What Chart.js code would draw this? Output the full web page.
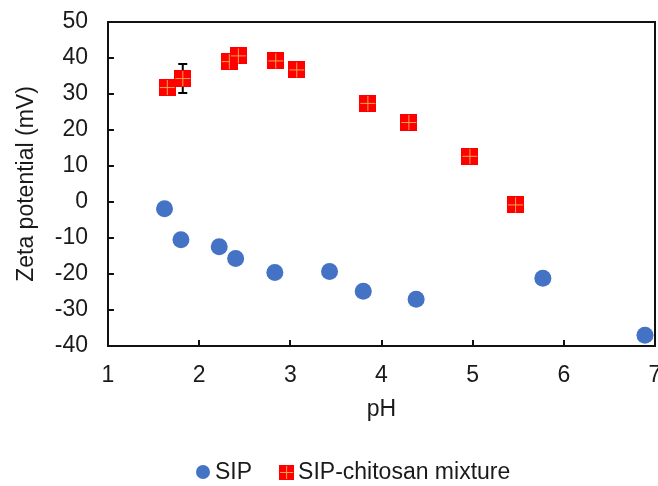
<!DOCTYPE html>
<html>
<head>
<meta charset="utf-8">
<script src="https://cdn.jsdelivr.net/npm/chart.js@4"></script>
<style>
  html, body { margin: 0; padding: 0; background: #fff; }
  #wrap { width: 658px; height: 486px; }
</style>
</head>
<body>
<div id="wrap"><canvas id="zetaChart"></canvas></div>
<script>
// SIP alone
const sipPH   = [1.62, 1.80, 2.22, 2.40, 2.83, 3.43, 3.80, 4.38, 5.77, 6.89];
const sipZeta = [-1.9, -10.5, -12.4, -15.7, -19.6, -19.3, -24.8, -27.0, -21.2, -37.0];
const sipErr  = [0, 0, 0, 0, 0, 1.3, 0, 0, 0, 0];

// SIP-chitosan mixture
const mixPH   = [1.65, 1.82, 2.33, 2.43, 2.84, 3.07, 3.85, 4.30, 4.97, 5.47];
const mixZeta = [31.8, 34.3, 39.0, 40.6, 39.2, 36.7, 27.4, 22.1, 12.7, -0.8];
const mixErr  = [0, 4.0, 0, 0, 0, 0, 0, 0, 0, 0];

const xTicks = [1, 2, 3, 4, 5, 6, 7];
const yTicks = [-40, -30, -20, -10, 0, 10, 20, 30, 40, 50];

const BLUE = '#4472C4';
const RED = '#FF0000';
const TEXT = '#1a1a1a';
const FONT_FAMILY = '"Liberation Sans", Arial, sans-serif';
const FONT_SIZE = 23;

// red square with light orange cross, used for points and legend
function makeSquare(size) {
    const c = document.createElement('canvas');
    c.width = size;
    c.height = size;
    const g = c.getContext('2d');
    g.fillStyle = RED;
    g.fillRect(0, 0, size, size);
    g.strokeStyle = '#F5A64A';
    g.lineWidth = 1;
    const m = Math.floor(size / 2) + 0.5;
    g.beginPath();
    g.moveTo(m, 1); g.lineTo(m, size - 1);
    g.moveTo(1, m); g.lineTo(size - 1, m);
    g.stroke();
    return c;
}
const squareMark = makeSquare(17);
const squareLegend = makeSquare(15);

const toPoints = (xs, ys) => xs.map((x, i) => ({ x: x, y: ys[i] }));

// frame, inward ticks, x labels and error bars, drawn under the markers
const framePlugin = {
    id: 'frame',
    beforeDatasetsDraw(chart) {
        const { ctx, chartArea: a, scales } = chart;
        ctx.save();
        ctx.strokeStyle = '#111';
        ctx.lineWidth = 2;
        ctx.strokeRect(a.left, a.top, a.right - a.left, a.bottom - a.top);
        ctx.beginPath();
        xTicks.forEach(v => {
            const px = Math.round(scales.x.getPixelForValue(v));
            ctx.moveTo(px, a.bottom);
            ctx.lineTo(px, a.bottom - 6);
        });
        yTicks.forEach(v => {
            const py = Math.round(scales.y.getPixelForValue(v));
            ctx.moveTo(a.left, py);
            ctx.lineTo(a.left + 6, py);
        });
        ctx.stroke();

        // x tick labels (drawn here so the last one does not shrink the plot)
        ctx.fillStyle = TEXT;
        ctx.font = FONT_SIZE + 'px ' + FONT_FAMILY;
        ctx.textAlign = 'center';
        ctx.textBaseline = 'middle';
        xTicks.forEach(v => {
            ctx.fillText(String(v), scales.x.getPixelForValue(v), a.bottom + 30);
        });

        const bars = (xs, ys, es) => {
            xs.forEach((x, i) => {
                if (!es[i]) return;
                const px = scales.x.getPixelForValue(x);
                const y1 = scales.y.getPixelForValue(ys[i] + es[i]);
                const y2 = scales.y.getPixelForValue(ys[i] - es[i]);
                ctx.beginPath();
                ctx.moveTo(px, y1); ctx.lineTo(px, y2);
                ctx.moveTo(px - 4.5, y1); ctx.lineTo(px + 4.5, y1);
                ctx.moveTo(px - 4.5, y2); ctx.lineTo(px + 4.5, y2);
                ctx.stroke();
            });
        };
        ctx.strokeStyle = '#000';
        ctx.lineWidth = 2;
        bars(sipPH, sipZeta, sipErr);
        bars(mixPH, mixZeta, mixErr);
        ctx.restore();
    }
};

// legend row under the axis title
const legendPlugin = {
    id: 'bottomLegend',
    afterDraw(chart) {
        const { ctx } = chart;
        const sets = chart.data.datasets;
        const y = 472;
        ctx.save();
        ctx.font = FONT_SIZE + 'px ' + FONT_FAMILY;
        ctx.textAlign = 'left';
        ctx.textBaseline = 'middle';
        let x = 196;
        // SIP: circle
        ctx.beginPath();
        ctx.fillStyle = BLUE;
        ctx.arc(x + 7, y, 7, 0, Math.PI * 2);
        ctx.fill();
        ctx.fillStyle = TEXT;
        ctx.fillText(sets[0].label, x + 19, y + 1);
        x += 19 + ctx.measureText(sets[0].label).width + 27;
        // mixture: square
        ctx.drawImage(squareLegend, x, y - 7);
        ctx.fillText(sets[1].label, x + 19, y + 1);
        ctx.restore();
    }
};

const font = { family: FONT_FAMILY, size: FONT_SIZE };

new Chart(document.getElementById('zetaChart'), {
    type: 'scatter',
    data: {
        datasets: [{
            label: 'SIP',
            data: toPoints(sipPH, sipZeta),
            pointStyle: 'circle',
            pointRadius: 8.5,
            pointHoverRadius: 8.5,
            backgroundColor: BLUE,
            borderColor: BLUE,
            borderWidth: 0
        }, {
            label: 'SIP-chitosan mixture',
            data: toPoints(mixPH, mixZeta),
            pointStyle: squareMark,
            pointRadius: 8.5,
            pointHoverRadius: 8.5,
            backgroundColor: RED,
            borderColor: RED,
            borderWidth: 0
        }]
    },
    options: {
        responsive: true,
        maintainAspectRatio: false,
        animation: false,
        layout: {
            autoPadding: false,
            padding: { left: 0, right: 3, top: 22, bottom: 0 }
        },
        plugins: {
            legend: { display: false },
            tooltip: { enabled: false }
        },
        scales: {
            x: {
                type: 'linear',
                min: 1,
                max: 7,
                grid: { display: false, drawTicks: false },
                border: { display: false },
                ticks: { stepSize: 1, display: false },
                title: {
                    display: true,
                    text: 'pH',
                    color: TEXT,
                    font: font,
                    padding: { top: 0, bottom: 63 }
                },
                afterFit: (scale) => {
                    scale.height = 140;
                }
            },
            y: {
                type: 'linear',
                min: -40,
                max: 50,
                grid: { display: false, drawTicks: false },
                border: { display: false },
                ticks: {
                    stepSize: 10,
                    color: TEXT,
                    font: font,
                    padding: 20
                },
                title: {
                    display: true,
                    text: 'Zeta potential (mV)',
                    color: TEXT,
                    font: font,
                    padding: { top: 13, bottom: 0 }
                },
                afterFit: (scale) => {
                    scale.width = 108;
                    scale.paddingTop = 0;
                    scale.paddingBottom = 0;
                }
            }
        }
    },
    plugins: [framePlugin, legendPlugin]
});
</script>
</body>
</html>
